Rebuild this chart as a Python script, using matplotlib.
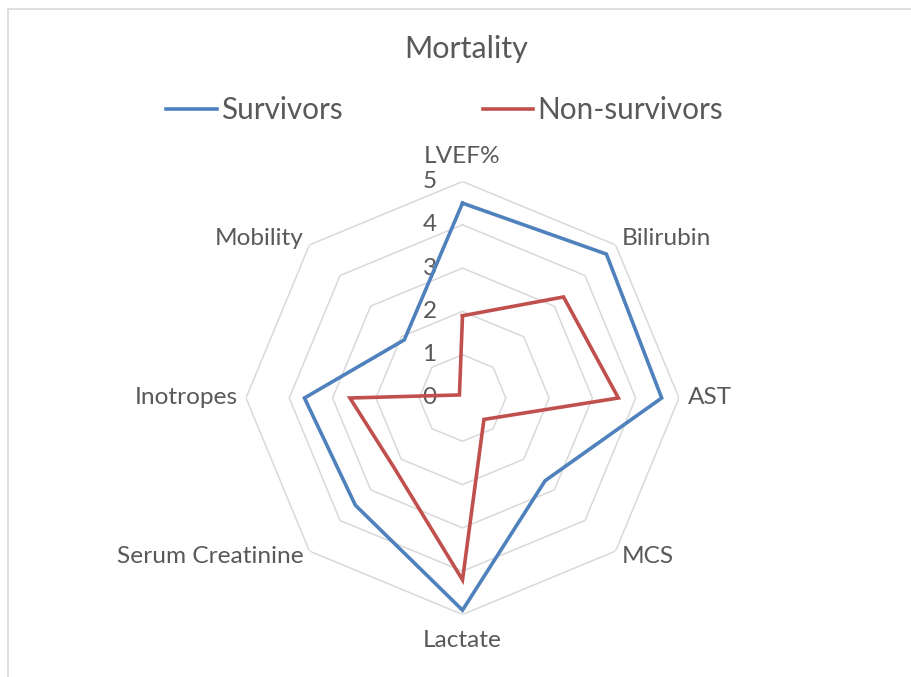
import numpy as np
import matplotlib
matplotlib.use("Agg")
import matplotlib.pyplot as plt
from matplotlib.lines import Line2D

# Radar chart data
categories = ["LVEF%", "Bilirubin", "AST", "MCS", "Lactate",
              "Serum Creatinine", "Inotropes", "Mobility"]
survivors = [4.5, 4.7, 4.6, 2.7, 4.9, 3.5, 3.65, 1.9]
non_survivors = [1.9, 3.3, 3.6, 0.7, 4.2, 2.25, 2.6, 0.1]
ring_values = [1, 2, 3, 4, 5]
tick_labels = ["0", "1", "2", "3", "4", "5"]
series_names = ["Survivors", "Non-survivors"]
title = "Mortality"

FONT = "Lato"
TEXT = "#595959"
GRID = "#D9D9D9"
BLUE = "#4F81BD"
RED = "#C0504D"

W, H, DPI = 912, 677, 100
fig = plt.figure(figsize=(W / DPI, H / DPI), dpi=DPI)
fig.patch.set_facecolor("white")

# polar axes placed so that the plot centre and outer ring sit where wanted
cx, cy, R = 462.5, 398.0, 216.5
ax = fig.add_axes([(cx - R) / W, (H - cy - R) / H, 2 * R / W, 2 * R / H],
                  projection="polar")
ax.set_theta_zero_location("N")
ax.set_theta_direction(-1)
ax.set_ylim(0, ring_values[-1])
ax.grid(False)
ax.set_xticks([])
ax.set_yticks([])
ax.spines["polar"].set_visible(False)
ax.patch.set_alpha(0)

n = len(categories)
theta = np.arange(n) * 2 * np.pi / n
theta_closed = np.append(theta, theta[0])

# octagonal grid rings
for rv in ring_values:
    ax.plot(theta_closed, [rv] * (n + 1), color=GRID, lw=1.1, zorder=1)

def closed(v):
    return list(v) + [v[0]]

ax.plot(theta_closed, closed(survivors), color=BLUE, lw=2.6, zorder=3,
        solid_joinstyle="miter")
ax.plot(theta_closed, closed(non_survivors), color=RED, lw=2.6, zorder=3,
        solid_joinstyle="miter")

# radial value labels to the left of the vertical axis
for i, lab in enumerate(tick_labels):
    ax.annotate(lab, xy=(0, i), xytext=(-33, 0), textcoords="offset pixels",
                ha="center", va="center", fontsize=17.5, color=TEXT,
                family=FONT, annotation_clip=False, zorder=2)

# category labels around the outer ring
label_layout = [
    ((0, 25), "center", "center"),
    ((6, 6), "left", "center"),
    ((9, 0), "left", "center"),
    ((6, -5), "left", "center"),
    ((0, -26), "center", "center"),
    ((-6, -5), "right", "center"),
    ((-8, 0), "right", "center"),
    ((-6, 6), "right", "center"),
]
for t, lab, (off, ha, va) in zip(theta, categories, label_layout):
    ax.annotate(lab, xy=(t, ring_values[-1]), xytext=off,
                textcoords="offset pixels", ha=ha, va=va, fontsize=17.6,
                color=TEXT, family=FONT, annotation_clip=False)

# title
fig.text(466 / W, 1 - 49 / H, title, ha="center", va="center",
         fontsize=22, color=TEXT, family=FONT)

# legend
handles = [Line2D([], [], color=BLUE, lw=2.6),
           Line2D([], [], color=RED, lw=2.6)]
leg = fig.legend(handles, series_names, loc="center",
                 bbox_to_anchor=(444.5 / W, 1 - 110 / H), ncol=2,
                 frameon=False, prop={"family": FONT, "size": 21.3},
                 handlelength=1.7, handletextpad=0.13, columnspacing=4.75,
                 borderpad=0, borderaxespad=0)
for txt in leg.get_texts():
    txt.set_color(TEXT)

# chart-area border (top and left edges)
fig.add_artist(Line2D([8.5 / W, 8.5 / W], [0, 1 - 8.5 / H],
                      transform=fig.transFigure, color=GRID, lw=1.2))
fig.add_artist(Line2D([8.5 / W, 1], [1 - 8.5 / H, 1 - 8.5 / H],
                      transform=fig.transFigure, color=GRID, lw=1.2))

fig.savefig("out.png", dpi=DPI, facecolor="white")
